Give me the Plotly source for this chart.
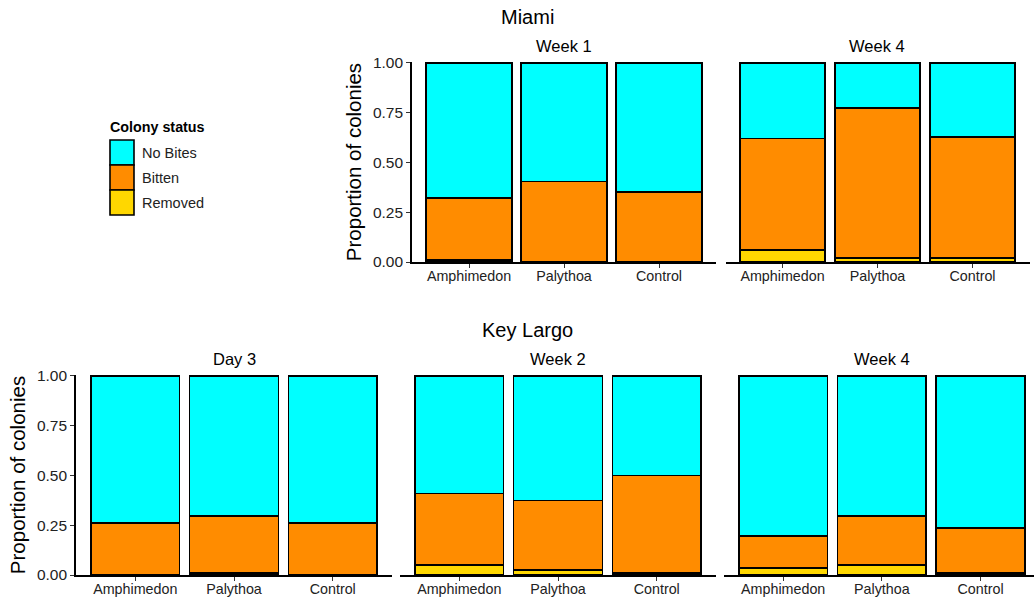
import plotly.graph_objects as go

treatments = ["Amphimedon", "Palythoa", "Control"]
statuses = ["Removed", "Bitten", "No Bites"]
colors = {"No Bites": "#00FFFF", "Bitten": "#FF8C00", "Removed": "#FFD700"}

# Miami
miami_w1_removed = [0.01, 0.0, 0.0]
miami_w1_bitten = [0.31, 0.405, 0.35]
miami_w1_nobites = [0.68, 0.595, 0.65]

miami_w4_removed = [0.06, 0.02, 0.02]
miami_w4_bitten = [0.56, 0.753, 0.607]
miami_w4_nobites = [0.38, 0.227, 0.373]

# Key Largo
kl_d3_removed = [0.0, 0.01, 0.0]
kl_d3_bitten = [0.26, 0.285, 0.26]
kl_d3_nobites = [0.74, 0.705, 0.74]

kl_w2_removed = [0.05, 0.025, 0.01]
kl_w2_bitten = [0.36, 0.35, 0.49]
kl_w2_nobites = [0.59, 0.625, 0.50]

kl_w4_removed = [0.035, 0.05, 0.01]
kl_w4_bitten = [0.16, 0.245, 0.225]
kl_w4_nobites = [0.805, 0.705, 0.765]

y_ticks = [0.0, 0.25, 0.5, 0.75, 1.0]
y_ticktext = ["0.00", "0.25", "0.50", "0.75", "1.00"]

W, H = 1034, 599
FONT = "Liberation Sans, Arial, sans-serif"

def px_x(v):
    return v / W

def px_y(v):
    return 1 - v / H

panels = [
    # title, data, x-domain px, y-domain px (top, bottom), show y axis, x range end, title x px
    ("Week 1", (miami_w1_removed, miami_w1_bitten, miami_w1_nobites), (412, 716), (62, 262), True, 2.6, 564),
    ("Week 4", (miami_w4_removed, miami_w4_bitten, miami_w4_nobites), (725.5, 1029.5), (62, 262), False, 2.6, 877),
    ("Day 3", (kl_d3_removed, kl_d3_bitten, kl_d3_nobites), (76, 392), (375, 575), True, 2.6, 234),
    ("Week 2", (kl_w2_removed, kl_w2_bitten, kl_w2_nobites), (400, 716), (375, 575), False, 2.6, 558),
    ("Week 4", (kl_w4_removed, kl_w4_bitten, kl_w4_nobites), (724, 1034), (375, 575), False, 2.542, 882),
]

fig = go.Figure()
layout = dict(
    width=W, height=H, autosize=False,
    margin=dict(l=0, r=0, t=0, b=0, pad=0, autoexpand=False),
    paper_bgcolor="white", plot_bgcolor="white",
    barmode="stack", bargap=0.1,
    showlegend=False,
    font=dict(family=FONT, color="black"),
)
annotations = []
shapes = []

for i, (title, data, (x0, x1), (yt, yb), showy, xend, tx) in enumerate(panels):
    idx = "" if i == 0 else str(i + 1)
    xa = "x" + idx
    ya = "y" + idx
    for status, vals in zip(statuses, data):
        fig.add_trace(go.Bar(
            x=treatments, y=vals, name=status, xaxis=xa, yaxis=ya,
            marker=dict(color=colors[status], line=dict(color="black", width=1.6)),
            width=0.9, hoverinfo="skip",
        ))
    layout["xaxis" + idx] = dict(
        domain=[px_x(x0), px_x(x1)], anchor=ya, automargin=False,
        range=[-0.6, xend], showline=True, linecolor="black", linewidth=1.6,
        ticks="outside", ticklen=4, tickwidth=1.2, tickcolor="#333",
        ticklabelstandoff=-4,
        showgrid=False, zeroline=False, categoryorder="array", categoryarray=treatments,
        tickfont=dict(size=14.3, color="#222", family=FONT), fixedrange=True,
    )
    layout["yaxis" + idx] = dict(
        domain=[px_y(yb), px_y(yt)], anchor=xa, automargin=False,
        range=[0, 1.004], showgrid=False, zeroline=False, fixedrange=True,
        showline=showy, linecolor="black", linewidth=1.6,
        ticks="outside" if showy else "", ticklen=4, tickwidth=1.2, tickcolor="#333",
        showticklabels=showy, tickvals=y_ticks, ticktext=y_ticktext,
        tickfont=dict(size=15.5, color="#222", family=FONT),
        title=dict(text="Proportion of colonies", font=dict(size=20.5, family=FONT), standoff=6) if showy else None,
    )
    annotations.append(dict(
        text=title, x=px_x(tx), y=px_y(yt - 16),
        xref="paper", yref="paper", showarrow=False, xanchor="center", yanchor="middle",
        font=dict(size=16.5, family=FONT, color="black"),
    ))

annotations.append(dict(text="Miami", x=px_x(527), y=px_y(17), xref="paper", yref="paper",
                        showarrow=False, xanchor="center", yanchor="middle",
                        font=dict(size=20, family=FONT, color="black")))
annotations.append(dict(text="Key Largo", x=px_x(527), y=px_y(330), xref="paper", yref="paper",
                        showarrow=False, xanchor="center", yanchor="middle",
                        font=dict(size=20, family=FONT, color="black")))

# Legend (drawn manually)
annotations.append(dict(text="<b>Colony status</b>", x=px_x(108), y=px_y(127), xref="paper", yref="paper",
                        showarrow=False, xanchor="left", yanchor="middle",
                        font=dict(size=14.3, family=FONT, color="black")))
legend_items = ["No Bites", "Bitten", "Removed"]
for k, status in enumerate(legend_items):
    top = 140 + k * 25
    shapes.append(dict(type="rect", xref="paper", yref="paper",
                       x0=px_x(110), x1=px_x(134), y0=px_y(top + 25), y1=px_y(top),
                       fillcolor=colors[status], line=dict(color="black", width=1.6)))
    annotations.append(dict(text=status, x=px_x(140), y=px_y(top + 13), xref="paper", yref="paper",
                            showarrow=False, xanchor="left", yanchor="middle",
                            font=dict(size=14.5, family=FONT, color="#222")))

layout["annotations"] = annotations
layout["shapes"] = shapes
fig.update_layout(**layout)
fig.write_html("out.html")
